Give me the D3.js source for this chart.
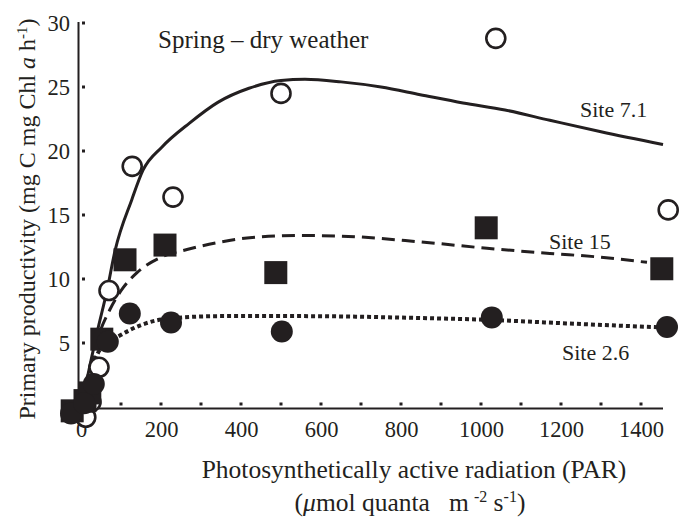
<!DOCTYPE html>
<html>
<head>
<meta charset="utf-8">
<script src="https://cdn.jsdelivr.net/npm/d3@7"></script>
<style>
  body { margin: 0; background: #fff; }
  svg { display: block; font-family: "Liberation Serif", "Times New Roman", serif; }
</style>
</head>
<body>
<div id="chart"></div>
<script>
// observed points (PAR, productivity)
var parSite71 = [12, 25, 45, 70, 128, 230, 500, 1037, 1468];
var pSite71   = [-0.8, 0.4, 3.1, 9.1, 18.8, 16.4, 24.5, 28.8, 15.4];
var parSite15 = [-22, 10, 22, 52, 110, 210, 487, 1013, 1452];
var pSite15   = [-0.3, 0.5, 1.1, 5.3, 11.5, 12.65, 10.5, 14.0, 10.8];
var parSite26 = [-25, 8, 32, 67, 122, 225, 502, 1027, 1465];
var pSite26   = [-0.5, 0.3, 1.8, 5.1, 7.3, 6.6, 5.9, 7.0, 6.25];

// fitted curves
var fitPar71 = [0, 20, 40, 65, 85, 127, 155, 202, 272, 342, 420, 500, 560, 650, 750, 848, 955, 1060, 1172, 1300, 1455];
var fitP71   = [0, 2.9, 5.8, 9.1, 12.2, 16.2, 18.5, 20.3, 22.2, 23.8, 24.9, 25.5, 25.6, 25.4, 25.0, 24.4, 23.75, 23.2, 22.4, 21.5, 20.5];
var fitPar15 = [0, 20, 40, 72, 105, 140, 200, 265, 350, 415, 548, 650, 848, 1015, 1172, 1300, 1415];
var fitP15   = [0, 2.8, 5.2, 7.6, 9.3, 10.5, 11.7, 12.3, 12.9, 13.2, 13.4, 13.35, 12.9, 12.4, 12.0, 11.7, 11.3];
var fitPar26 = [0, 20, 50, 98, 150, 230, 350, 548, 848, 1027, 1200, 1465];
var fitP26   = [0, 2.4, 4.6, 5.6, 6.4, 6.95, 7.1, 7.1, 6.95, 6.8, 6.55, 6.2];

var xTicks = [0, 200, 400, 600, 800, 1000, 1200, 1400];
var xMinor = [100, 200, 300, 400, 500, 600, 700, 800, 900, 1000, 1100, 1200, 1300, 1400];
var yTicks = [5, 10, 15, 20, 25, 30];

var width = 684, height = 518;

var svg = d3.select("#chart")
  .append("svg")
  .attr("width", width)
  .attr("height", height);

var x = d3.scaleLinear().domain([0, 1400]).range([81, 641]);
var y = d3.scaleLinear().domain([0, 30]).range([407, 23]);

// axis lines
svg.append("line")
  .attr("x1", 78.5).attr("x2", 78.5)
  .attr("y1", y(30) - 1).attr("y2", 409.5)
  .attr("stroke", "#231f20").attr("stroke-width", 2);
svg.append("line")
  .attr("x1", 78).attr("x2", x(1455))
  .attr("y1", 408.5).attr("y2", 408.5)
  .attr("stroke", "#231f20").attr("stroke-width", 2);

// tick labels through d3 axes
var xAxis = svg.append("g")
  .attr("transform", "translate(0,408)")
  .call(d3.axisBottom(x).tickValues(xTicks).tickSize(0).tickPadding(13).tickFormat(d3.format("d")));
var yAxis = svg.append("g")
  .attr("transform", "translate(78,0)")
  .call(d3.axisLeft(y).tickValues(yTicks).tickSize(0).tickPadding(8));
svg.selectAll(".domain").remove();
svg.selectAll(".tick text")
  .attr("fill", "#231f20")
  .style("font-family", "Liberation Serif")
  .style("font-size", "22.5px");

// dotted ticks inside the frame
svg.selectAll(".xdot")
  .data(xMinor)
  .enter().append("rect")
  .attr("x", function(d) { return x(d) - 1.5; })
  .attr("y", 402.5)
  .attr("width", 3).attr("height", 3)
  .attr("fill", "#231f20");
svg.selectAll(".ydot")
  .data(yTicks)
  .enter().append("rect")
  .attr("x", 82)
  .attr("y", function(d) { return y(d) - 1.5; })
  .attr("width", 3).attr("height", 3)
  .attr("fill", "#231f20");

// curves
function pairs(xs, ys) { return xs.map(function(v, i) { return [v, ys[i]]; }); }
var line = d3.line()
  .x(function(d) { return x(d[0]); })
  .y(function(d) { return y(d[1]); })
  .curve(d3.curveMonotoneX);

svg.append("path")
  .datum(pairs(fitPar71, fitP71))
  .attr("d", line)
  .attr("fill", "none").attr("stroke", "#231f20").attr("stroke-width", 3);
svg.append("path")
  .datum(pairs(fitPar15, fitP15))
  .attr("d", line)
  .attr("fill", "none").attr("stroke", "#231f20").attr("stroke-width", 3)
  .attr("stroke-dasharray", "13,7");
svg.append("path")
  .datum(pairs(fitPar26, fitP26))
  .attr("d", line)
  .attr("fill", "none").attr("stroke", "#231f20").attr("stroke-width", 4)
  .attr("stroke-dasharray", "4,3");

// markers
svg.selectAll(".open")
  .data(pairs(parSite71, pSite71))
  .enter().append("circle")
  .attr("cx", function(d) { return x(d[0]); })
  .attr("cy", function(d) { return y(d[1]); })
  .attr("r", 9.5)
  .attr("fill", "#fff").attr("stroke", "#231f20").attr("stroke-width", 2.6);
svg.selectAll(".sq")
  .data(pairs(parSite15, pSite15))
  .enter().append("rect")
  .attr("x", function(d) { return x(d[0]) - 11.5; })
  .attr("y", function(d) { return y(d[1]) - 11.5; })
  .attr("width", 23).attr("height", 23)
  .attr("fill", "#231f20");
svg.selectAll(".dot")
  .data(pairs(parSite26, pSite26))
  .enter().append("circle")
  .attr("cx", function(d) { return x(d[0]); })
  .attr("cy", function(d) { return y(d[1]); })
  .attr("r", 11)
  .attr("fill", "#231f20");

// text
function label(txt, px, py, size) {
  svg.append("text")
    .attr("x", px).attr("y", py)
    .attr("fill", "#231f20")
    .style("font-size", size + "px")
    .text(txt);
}
label("Spring \u2013 dry weather", 158, 48, 25);
label("Site 7.1", 580, 117, 22);
label("Site 15", 549, 249, 22);
label("Site 2.6", 562, 360, 22);

// x title
var xt = svg.append("text")
  .attr("x", 414).attr("y", 478)
  .attr("text-anchor", "middle")
  .attr("fill", "#231f20")
  .style("font-size", "25.5px")
  .text("Photosynthetically active radiation (PAR)");
var xt2 = svg.append("text")
  .attr("x", 410).attr("y", 511)
  .attr("text-anchor", "middle")
  .attr("fill", "#231f20")
  .style("font-size", "25.5px");
xt2.append("tspan").text("(");
xt2.append("tspan").style("font-style", "italic").text("\u03bc");
xt2.append("tspan").text("mol quanta\u00a0\u00a0\u00a0m");
xt2.append("tspan").attr("dx", 5).attr("dy", -9).style("font-size", "16px").text("-2");
xt2.append("tspan").attr("dy", 9).text(" s");
xt2.append("tspan").attr("dy", -9).style("font-size", "16px").text("-1");
xt2.append("tspan").attr("dy", 9).text(")");

// y title
var yt = svg.append("text")
  .attr("transform", "rotate(-90)")
  .attr("x", -219).attr("y", 35)
  .attr("text-anchor", "middle")
  .attr("fill", "#231f20")
  .style("font-size", "24px");
yt.append("tspan").text("Primary productivity (mg C mg Chl ");
yt.append("tspan").style("font-style", "italic").text("a");
yt.append("tspan").text(" h");
yt.append("tspan").attr("dy", -8).style("font-size", "15px").text("-1");
yt.append("tspan").attr("dy", 8).text(")");
</script>
</body>
</html>
